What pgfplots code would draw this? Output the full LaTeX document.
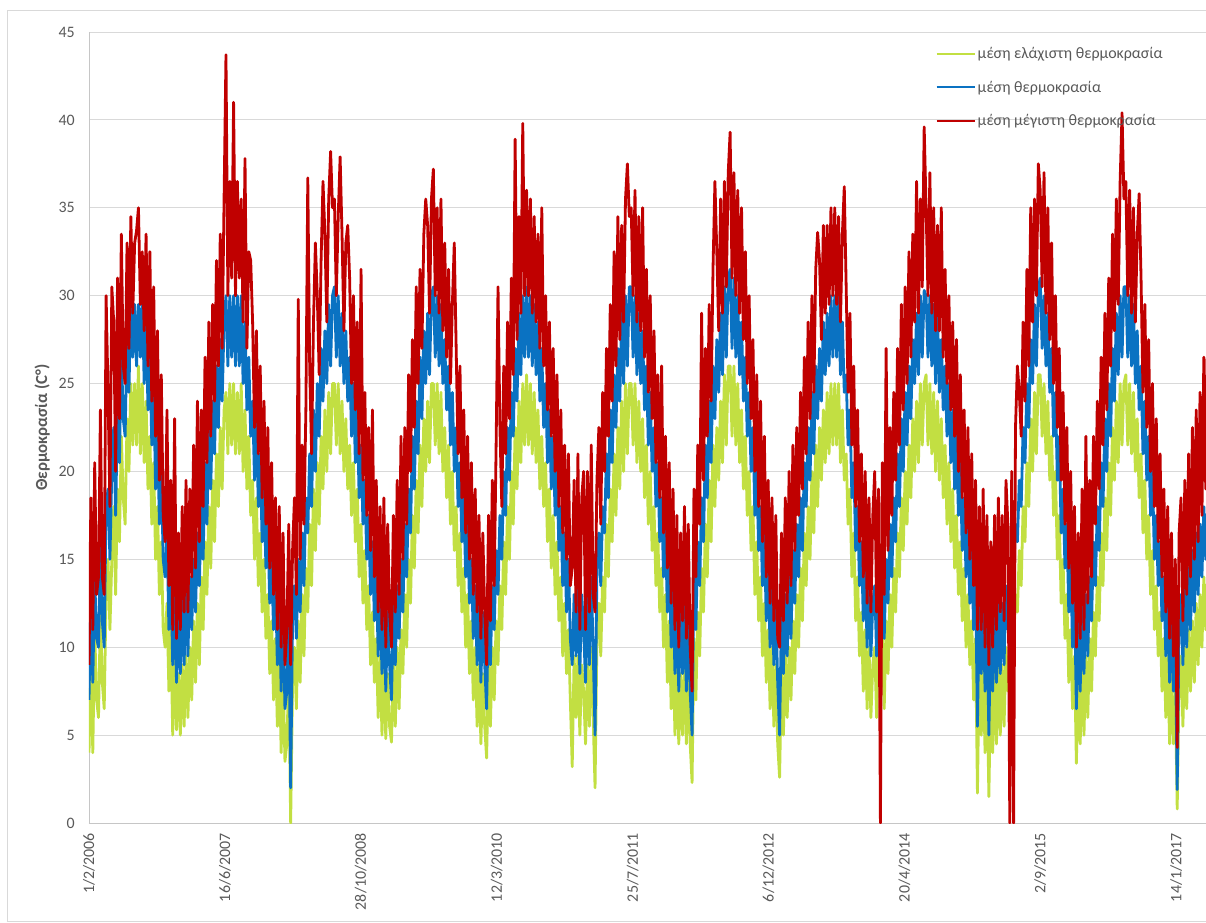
\documentclass[border=0pt]{standalone}
\usepackage{fontspec}
\setmainfont{Carlito}
\usepackage{pgfplots}
\usepackage{pgfplotstable}
\pgfplotsset{compat=1.18}
\definecolor{tmin}{HTML}{C2DF42}
\definecolor{tmean}{HTML}{0A72C2}
\definecolor{tmax}{HTML}{C00000}
\definecolor{txt}{HTML}{595959}
\definecolor{gridc}{HTML}{D9D9D9}

% weekly readings, first row = 1/2/2006
\pgfplotstableread{
lo me hi
4 7 9
9 13 18.5
4 8 11
11 14 20.5
7 10.5 13
6 10 14
12 16 23.5
8 11.5 14
6.5 10 13
13 18 30
15 19 24.5
11 15 18
15 20 30.5
18 22.5 28.5
13 17.5 20
19 23.5 31
16 20.5 23
22 27 33.5
18.5 23 26
17 22 25
23 28 33
20 24.5 27
25 30 34.5
21.5 26.5 29
25 29.5 33
21.5 26 33.7
26 29.5 35
21 26.5 29.5
25 30 32.5
20.5 25 28
24 29 33.5
19 23.5 26
22 27 32.5
17 21.5 24
20.5 25 30.5
15 19 22
18 22.5 28
13 17 19.5
16 20 25.5
11 15 17.5
10 14 16
12.5 16.5 23.5
7.5 11 13.5
11 14.5 19.5
5 9 11
9.5 13 23
5.3 8 10.5
8.5 12 16.5
5 8.5 11
9 13 18
5.5 9 12
9.5 13.5 19.5
6 9.5 12
10 14 19
7 11 14
11.5 15 21.5
8 12 14.5
12.5 16.5 24
9 13.5 16
14 18 23.5
11 15 18
16 20.5 26.5
13 17 20.5
18 22.5 28.5
14.5 19 22
19.5 24 29.5
16 21 24
21 26 32
18 22.5 26
22.5 27.5 33.5
19 24 27
23.5 28.5 35.5
24.5 30 43.7
21 26 30
25 30 36.5
21.5 26.5 31
25 30 41
21 26 30
24.5 30 36.5
21 26 31
25 30 35.5
20 25 28.5
23.5 28.5 37.8
19 23.5 27
22 26.5 32.5
17.5 22 32
19.5 24 28.5
15 19.5 22.5
18.5 23 28
13.5 18 21
16.5 21 26
12 16 18.5
15 19 24
10.5 14.5 17
13 17 22.5
8.5 12.5 14.5
11.5 15 20.5
7 11 13
10.5 14 18.5
5.5 9 11
9.5 13 18
4 7.5 10
8.5 12 16.5
3.5 6.5 9
4.5 7.5 11
8.5 12 17
0 2 9
8 11.5 15.5
10 13.5 18.5
6.5 10.5 13
11.5 15 29.8
8 12 15
13 16.5 21.5
9.5 13.5 17
14.5 18.5 23.5
12 16.5 36.7
17 21 26
13.5 18 21
19 23.5 28.5
15.5 20 33
20.5 25 30
17 22 25.5
22 27 32
19 24 36.5
23.5 28 33.5
20 25 28.5
24.5 29.5 35.5
21 26 38.2
25 30 35
25 30.5 35.5
21.5 26.5 30
25 30 34.5
21 26 37.9
24 29 33.5
20 25 28
23 28 33
19 24 34
21.5 26.5 31
17.5 22 25
20.5 25 30
16 20.5 23.5
19 23.5 28.5
14 18.5 21
17 21.5 31.5
12.5 17 19.5
15.5 19.5 24.5
11 15 17.5
13.5 17.5 22.5
9 13 15.5
12 16 23.5
8 11.5 14
10.5 14.5 19.5
6 9.5 12
9.5 13 18
5 8.5 11
9 12.5 18.5
4.8 7.5 10
8.5 12 17
5.5 9 12
4.6 7 10
9 12.5 17.5
5.5 9 12
10 13.5 19.5
6.5 10.5 13
11 15 22
8.5 12 15
13 17 22.5
10 14 17
15 19 25.5
12.5 16.5 20
17.5 22 27.5
14.5 19 22.5
19.5 24 30.5
16.5 21 25
21.5 26.5 31.5
18 23 27
23 28 33.5
20 25 35.5
24 29 34
20.5 25.5 29
25 30 35.5
25 30.5 37.2
21.5 26.5 30
25 30 35
21 26 29
24.5 29.5 35.5
20 25 28
22.5 27.5 33
18.5 23.5 26.5
21.5 26 31.5
17 21.5 25
20 24.5 29.5
15.5 20 33
18 22.5 27
13.5 18 21
16.5 20.5 26
12 16 18.5
14.5 18.5 23.5
10 14 16.5
13 17 22
8.5 12.5 15
11.5 15 20.5
7 10.5 13
10 13.5 19
5.5 9 12
9 12.5 17.5
4.5 8 10.5
8.5 12 16.5
5.5 9 12
3.7 6.5 9
9 12.5 17.5
5.5 9 11.5
10 13.5 19.5
7 11 13.5
11.5 15.5 21.5
9 13 30.5
13.5 17.5 22.5
11 15 18
16 20 26
13 17.5 21
18 22.5 28.5
15 19.5 23
20 24.5 31
17 22 25.5
22.5 27 38.9
19 24 27.5
24 29 34.5
20.5 25.5 29
25 30 39.8
21.5 26.5 30
25.5 30.5 36
21.5 26.5 30
25 30 35.5
21 26 29
24.5 29.5 34.5
20.5 25.5 28.5
23.5 28.5 33.5
19 24 27
22 27 35
18 22.5 26
20.5 25 30
16 20.5 23.5
19 23.5 28.5
14.5 19 22
17.5 22 27
13 17.5 20
16 20 25.5
11.5 15.5 18
14 18 23.5
9.5 13.5 16.5
12.5 16.5 21.5
8.5 12 15
11 15 21
7 10.5 13.5
3.2 9 14.5
9.5 13 19.5
6 9.5 12
9.5 13.5 21
5 8.5 11
9 13 18.5
7.5 11 20
4.5 8 11
9 13 20
5.5 9 12
10 14 21.5
6 10 13
2 5 12
10.5 14.5 19.5
12.5 16.5 22.5
9.5 13.5 17
14 18 24.5
12 16.5 20
17 21 27
14 18.5 22
19 23.5 29.5
16 20.5 24
21 25.5 32.5
17.5 22.5 26
22.5 27 34.5
19 24 27.5
24 29 34
20 25 28.5
25 30 35.5
21 26 37.5
25 30.5 34.5
25 30.5 35
21.5 26.5 30
25 30 36
20.5 25.5 28.5
24 29 34.5
20 25 28
23 28 35
18.5 23.5 26.5
21.5 26 31.5
17 21.5 24.5
20 24.5 30
15.5 20 23
18 22.5 28
13.5 18 20.5
16.5 20.5 25.5
12 16 18.5
14.5 18.5 26
10 14 16.5
13 17 22
8 12 14.5
11.5 15 20.5
6.5 10 12.5
10 13.5 19
5 8.5 11
9 12.5 17.5
4.5 7.5 10
8.5 12 16.5
5 8.5 11.5
9 12.5 18
4.5 7.5 10.5
8.5 12 17
4.5 7.5 10
2.3 5 7.5
10.5 14 19
7 11 14
12 16 21.5
9.5 13.5 17
14.5 18.5 29
12 16 19.5
17 21.5 27
14 18.5 22
19.5 24 29.5
16 20.5 24
21.5 26 31.5
18 23 36.5
22.5 27.5 32.5
19.5 24.5 28
24 29 35.5
20.5 25.5 29
25.5 30.5 36.5
21.5 26.5 30.5
26 31 37
26 31.5 39.3
22 27 31
26 31 37
21.5 26.5 30
25 30 36
20.5 25.5 29
23.5 28.5 35
19 24 27.5
22 26.5 32.5
17.5 22 25
20 24.5 30
15.5 20 23
18 22.5 27.5
13 17.5 20
16 20 25.5
11.5 15.5 18
14 18 24
9.5 13.5 16
12.5 16.5 22
8 11.5 14
11 14.5 19.5
6.5 10 12.5
10 13.5 18.5
5.5 9 11.5
9 12.5 17.5
4.5 8 10.5
2.6 5 10
8.5 12 16.5
5 8.5 11.5
9.5 13 18.5
6 9.5 12.5
10 14 20
7 10.5 13.5
11.5 15.5 21.5
8.5 12.5 15.5
13 17 22.5
10 14 17.5
14.5 18.5 24.5
11.5 15.5 19
16.5 20.5 26.5
13.5 18 21
18 22.5 28.5
15 19.5 23
20 24.5 30
16.5 21 24.5
21.5 26 31.5
18 23 33.6
22.5 27 32
19.5 24 27.5
23.5 28.5 34
20.5 25.5 29
24.5 29 34
21 26 29.5
25 30 35
21.5 26.5 30
25 30 35
21.5 26.5 29.5
25 30 34.5
20.5 25.5 28.5
23.5 28.5 33.5
19.5 24.5 36.2
21 25.5 30.5
17 21.5 24.5
19 23.5 29
14 18.5 21.5
16.5 20.5 26
11.5 15.5 18
14 18 23.5
9.5 13.5 16
12 16 21
7.5 11.5 14
11 14.5 20
6.5 10 12.5
10 13.5 18.5
6 9.5 12
9 12.5 17.5
10 13.5 20
6 9.5 12
10.5 14 19
8 11 0
10.5 14.5 20.5
6.5 10.5 13
11.5 15 27
8.5 12.5 15.5
13 17 22.5
10 14 17.5
14.5 18.5 24.5
12 16 19.5
16.5 21 27
14 18 21.5
18.5 23 29.5
15.5 20 23.5
20 24.5 30.5
17 21.5 25
21.5 26 32.5
18.5 23 26.5
23 27.5 33.5
20 25 28.5
24 29 36.5
20.5 25.5 29
25 30 35.5
21.5 26.5 30.5
25 30.3 39.6
25.5 30 35
21.5 26.5 30
25 30 37
21 26 29
24.5 29.5 35
20 25 28
24 29 34
19.5 24.5 28
23 27.5 35
18.5 23.5 26.5
21.5 26 31.5
17 22 25
20.5 25 30
16 20.5 23.5
19 23.5 28.5
14.5 19 22
17.5 22 27.5
13 17.5 20
16 20.5 25.5
11.5 15.5 18.5
14.5 18.5 23.5
10 14 16.5
13 17 22.5
9 12.5 15
11.5 15.5 21
7 11 13.5
10.5 14 19.5
1.7 5.5 11
9.5 13 18
5 8.5 11
9 12.5 19
4 7.5 10
8.5 12 17.5
1.5 5 9
8 11.5 16
4 7.5 10
8.5 12 17.5
4.5 8 11
9 12.5 18.5
5 8.5 12
9 12.5 17.5
5.5 9 11.5
10 13.5 19.5
7.5 11 17
9.5 13 0
11 14.5 20
10 14 0
13 17 22.5
12 16 26
15.5 19.5 24.5
13.5 18 22
18 22.5 28.5
16 20.5 24
20.5 25 31.5
18 22.5 26
23 27.5 35
20 25 28.5
24.5 29.5 35.5
21 26 30
25.5 30.5 37.5
25.5 31 36
22 27 30.5
25 30 37
21 26 29
24 29 35
19.5 24.5 27.5
22 27 33
17.5 22 25
20 24.5 30
15 19.5 22.5
17.5 22 27
12.5 16.5 19.5
15 19 24.5
10.5 14.5 17
13 17 22.5
8 12 14.5
11 15 20
6.5 10 12.5
9.5 13 18
3.4 6.5 10
8.5 12 16.5
4.5 7.5 10.5
9 12.5 19
5 8.5 11
9.5 13 22
6 9.5 12.5
10.5 14 19.5
7.5 11.5 14
12 16 22
9.5 13.5 17
14 18 24
11.5 15.5 19
16.5 20.5 26.5
13.5 18 21.5
18.5 23 29
15.5 20 23.5
20.5 25 31
17.5 22 26
22.5 27 33.5
19.5 24 28
24 29 35.5
20.5 25.5 29.5
25 30 36.5
21.5 26.5 40.4
25 30.5 35.5
25.5 30.5 36.5
21.5 26.5 30
25 30 36
21 26 29
24.5 29.5 35
20 25 28.5
23 28 33.5
18.5 23.5 35.8
21 26 31
16.5 21 24.5
19.5 24 29.5
15 19.5 22.5
17.5 22 27.5
13 17.5 20
15.5 20 25
11 15 18
13.5 17.5 23
9.5 13.5 16
12 16 21
7.5 11.5 14
10.5 14 19
6 9.5 12
9.5 13 18
4.5 8 10.5
8.5 12 16.5
4.5 7.5 9.5
7.5 10.5 15
0.8 1.9 4.3
8 11.5 16.5
9.5 13 18.5
5.5 9 11.5
10 13.5 19.5
6.5 10 13
11 14.5 21
7.5 11 14
11.5 15.5 22.5
8 12 15
12.5 16.5 23.5
9 13 16
13 17 24.5
10 14 17.5
14 18 26.5
11 15 19
14 18 27.5
}\temps

\begin{document}
\begin{tikzpicture}
\path[use as bounding box] (-89bp,-100bp) rectangle (1117bp,823bp);
\draw[gridc, line width=0.8bp] (-82bp,-98bp) -- (-82bp,813bp) -- (1117bp,813bp);
\draw[gridc, line width=0.8bp] (-82bp,-98bp) -- (1117bp,-98bp);
\begin{axis}[
  at={(0,0)}, anchor=south west,
  scale only axis, width=1117bp, height=791bp,
  xmin=0, xmax=4110, ymin=0, ymax=45,
  xtick={0,500,...,4000},
  xticklabels={1/2/2006,16/6/2007,28/10/2008,12/3/2010,25/7/2011,6/12/2012,20/4/2014,2/9/2015,14/1/2017},
  ytick={0,5,...,45},
  ymajorgrids, grid style={gridc, line width=0.8bp},
  axis x line*=bottom, axis y line*=left,
  axis line style={draw=gray!45, line width=0.8bp, -},
  major tick length=0pt,
  tick label style={font=\fontsize{16}{18}\selectfont, text=txt},
  xticklabel style={rotate=90, anchor=east, inner sep=0pt},
  yticklabel style={anchor=east, inner sep=0pt},
  xticklabel shift=10bp, yticklabel shift=14bp,
  /pgf/number format/assume math mode=true,
  ylabel={Θερμοκρασία (C°)},
  ylabel style={at={(axis description cs:-0.042,0.5)}, anchor=center, font=\bfseries\fontsize{17}{19}\selectfont, text=txt},
  legend style={draw=none, fill=none, at={(0.755,0.986)}, anchor=north west,
    font=\fontsize{16}{18}\selectfont, text=txt, row sep=17bp},
  legend cell align=left,
  legend image code/.code={\draw[#1, line width=2.2bp] (0bp,0bp) -- (38bp,0bp);},
  every axis plot/.append style={line width=2.8bp, line join=round, no markers},
]
\addplot[tmin] table[x expr=\coordindex*7, y=lo] {\temps};
\addplot[tmean] table[x expr=\coordindex*7, y=me] {\temps};
\addplot[tmax] table[x expr=\coordindex*7, y=hi] {\temps};
\legend{μέση ελάχιστη θερμοκρασία, μέση θερμοκρασία, μέση μέγιστη θερμοκρασία}
\end{axis}
\end{tikzpicture}
\end{document}
